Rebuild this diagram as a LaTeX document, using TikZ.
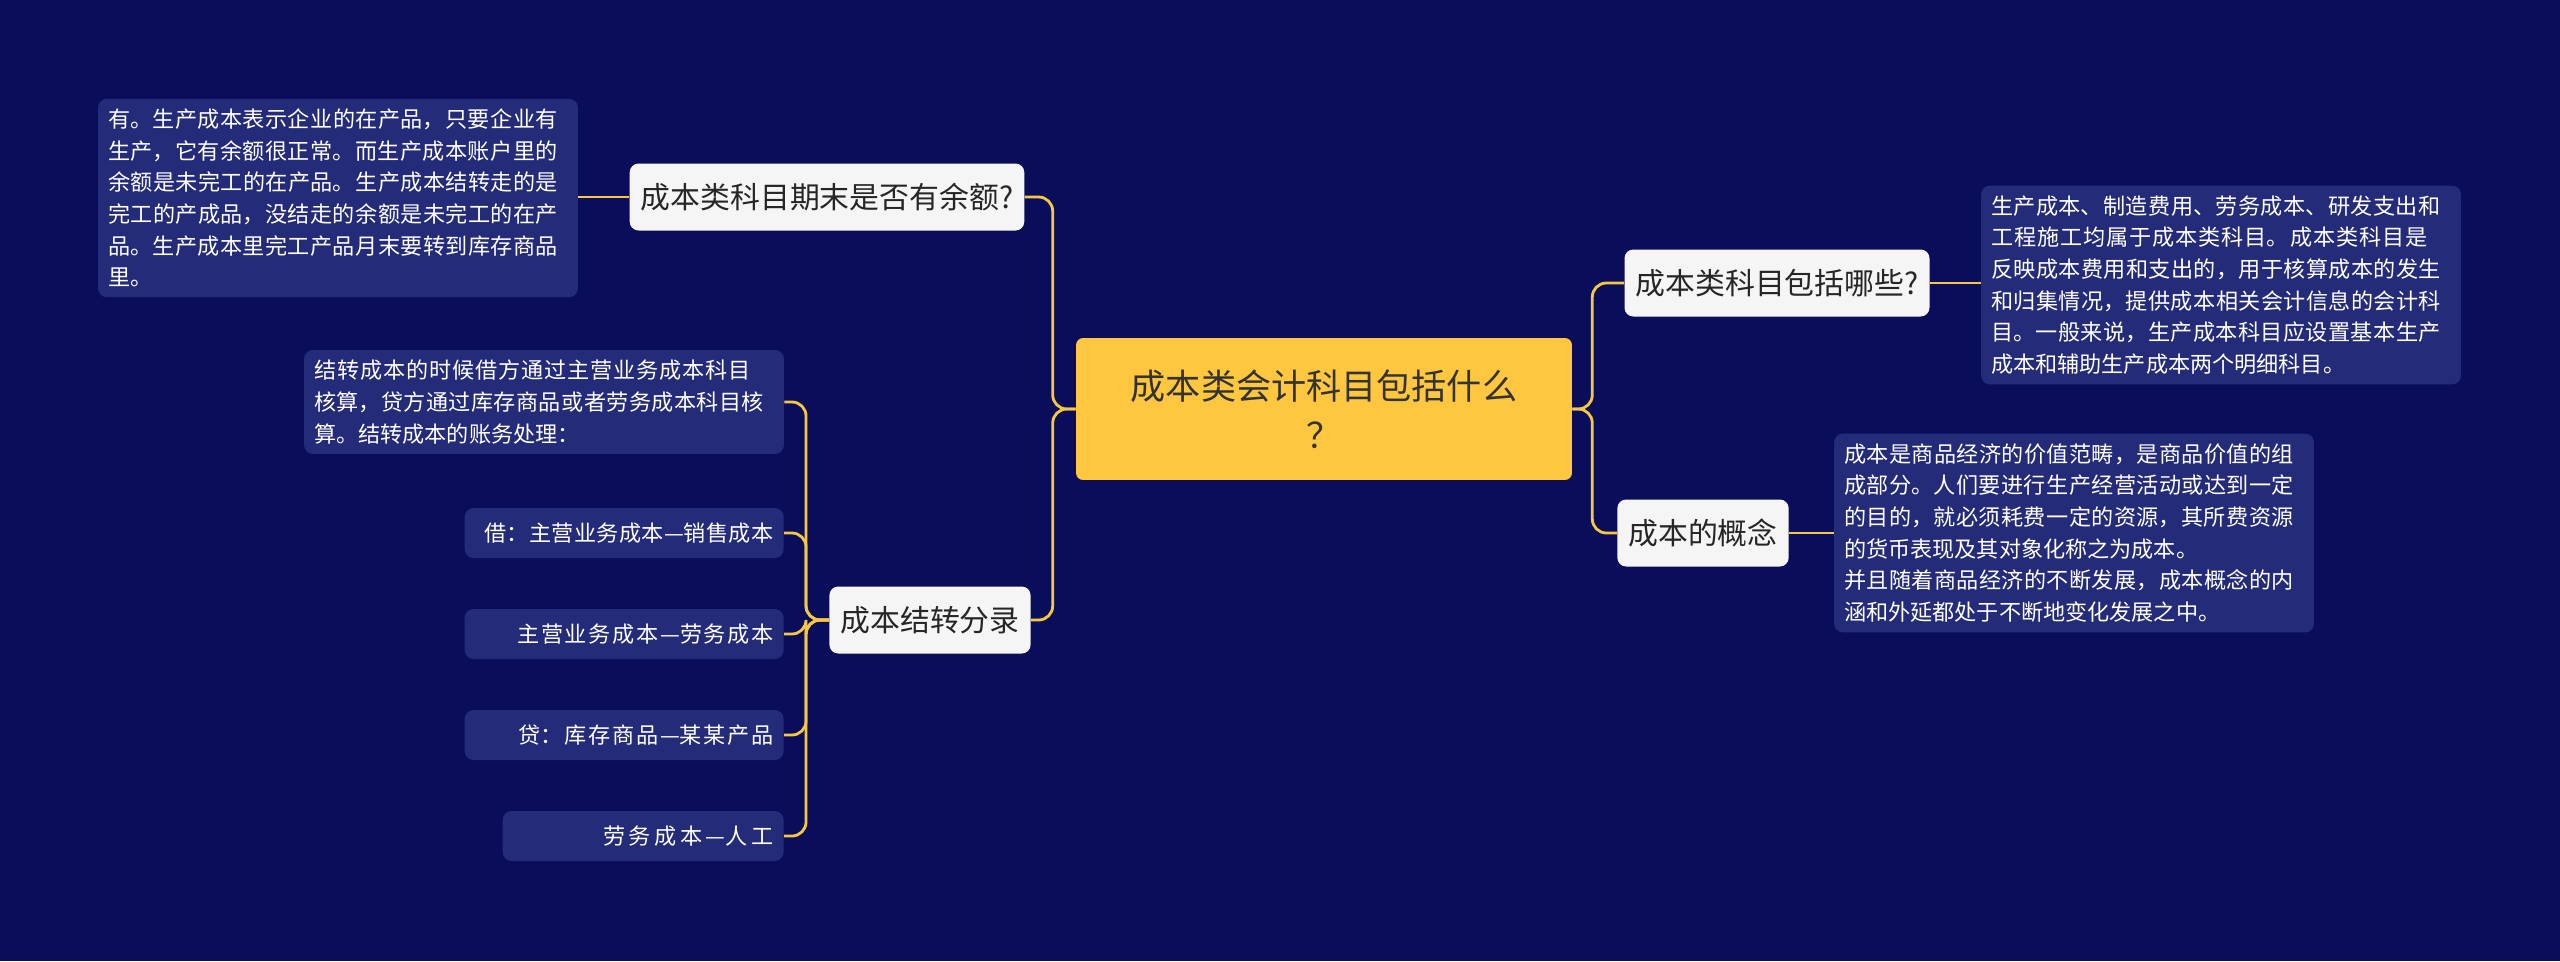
\documentclass[tikz,border=0pt]{standalone}
\usepackage{fontspec}
\setmainfont{Noto Sans CJK SC}
\XeTeXlinebreaklocale "zh"
\XeTeXlinebreakskip=0pt plus 1pt
\definecolor{bgblue}{HTML}{0A0E5A}
\definecolor{leafblue}{HTML}{242B78}
\definecolor{rootyellow}{HTML}{FFC640}
\definecolor{linkyellow}{HTML}{F6C744}
\definecolor{branchwhite}{HTML}{F5F5F5}
\tikzset{
  rootbox/.style={fill=rootyellow, rounded corners=4pt, minimum width=9.92cm, minimum height=2.84cm, align=center, text=black!80, font=\fontsize{20pt}{28pt}\selectfont},
  branchbox/.style={fill=branchwhite, rounded corners=5pt, minimum height=1.34cm, inner xsep=0.22cm, text=black!85, font=\fontsize{17pt}{20pt}\selectfont},
  leafbox/.style={fill=leafblue, rounded corners=5pt, inner xsep=0.2cm, inner ysep=0.2cm, text=white, align=left, font=\fontsize{12.6pt}{18pt}\selectfont},
  itembox/.style={fill=leafblue, rounded corners=5pt, minimum height=1cm, inner xsep=0.2cm, text=white, anchor=east, align=right, font=\fontsize{12.6pt}{18pt}\selectfont}
}
\tikzset{link/.style={draw=linkyellow, line width=1.6pt, rounded corners=8pt}}
\begin{document}
\begin{tikzpicture}[x=0.02cm, y=-0.02cm]
  \fill[bgblue] (0,0) rectangle (2560,961);
  \useasboundingbox (0,0) rectangle (2560,961);

  \node[rootbox] (root) at (1324,409) {成本类会计科目包括什么\\？};

  % left side
  \node[branchbox] (qa) at (827,197) {成本类科目期末是否有余额?};
  \node[leafbox, text width=9.2cm] (qaleaf) at (338,198) {有。生产成本表示企业的在产品，只要企业有生产，它有余额很正常。而生产成本账户里的余额是未完工的在产品。生产成本结转走的是完工的产成品，没结走的余额是未完工的在产品。生产成本里完工产品月末要转到库存商品里。};
  \node[branchbox] (entry) at (930,620) {成本结转分录};
  \node[leafbox, text width=9.2cm] (entryleaf) at (544,402) {结转成本的时候借方通过主营业务成本科目核算，贷方通过库存商品或者劳务成本科目核算。结转成本的账务处理：};
  \node[itembox, text width=5.98cm] (item1) at (784,533) {借：主营业务成本—销售成本};
  \node[itembox, text width=5.98cm] (item2) at (784,634) {主营业务成本—劳务成本};
  \node[itembox, text width=5.98cm] (item3) at (784,735) {贷：库存商品—某某产品};
  \node[itembox, text width=5.22cm] (item4) at (784,836) {劳务成本—人工};

  % right side
  \node[branchbox] (types) at (1777,283) {成本类科目包括哪些?};
  \node[leafbox, text width=9.2cm] (typesleaf) at (2221,285) {生产成本、制造费用、劳务成本、研发支出和工程施工均属于成本类科目。成本类科目是反映成本费用和支出的，用于核算成本的发生和归集情况，提供成本相关会计信息的会计科目。一般来说，生产成本科目应设置基本生产成本和辅助生产成本两个明细科目。};
  \node[branchbox] (concept) at (1703,533) {成本的概念};
  \node[leafbox, text width=9.2cm] (conceptleaf) at (2074,533) {成本是商品经济的价值范畴，是商品价值的组成部分。人们要进行生产经营活动或达到一定的目的，就必须耗费一定的资源，其所费资源的货币表现及其对象化称之为成本。\\并且随着商品经济的不断发展，成本概念的内涵和外延都处于不断地变化发展之中。};

  % connectors
  \draw[link] (root.west) -- ++(-23,0) |- (qa.east);
  \draw[link] (root.west) -- ++(-23,0) |- (entry.east);
  \draw[link] (root.east) -- ++(20,0) |- (types.west);
  \draw[link] (root.east) -- ++(20,0) |- (concept.west);
  \draw[link] (qa.west) -- (qaleaf.east |- qa.west);
  \draw[link] (types.east) -- (typesleaf.west |- types.east);
  \draw[link] (concept.east) -- (conceptleaf.west |- concept.east);
  \draw[link] (entry.west) -- ++(-23,0) |- (entryleaf.east);
  \foreach \i in {1,...,4}
    \draw[link] (entry.west) -- ++(-23,0) |- (item\i.east);
\end{tikzpicture}
\end{document}
